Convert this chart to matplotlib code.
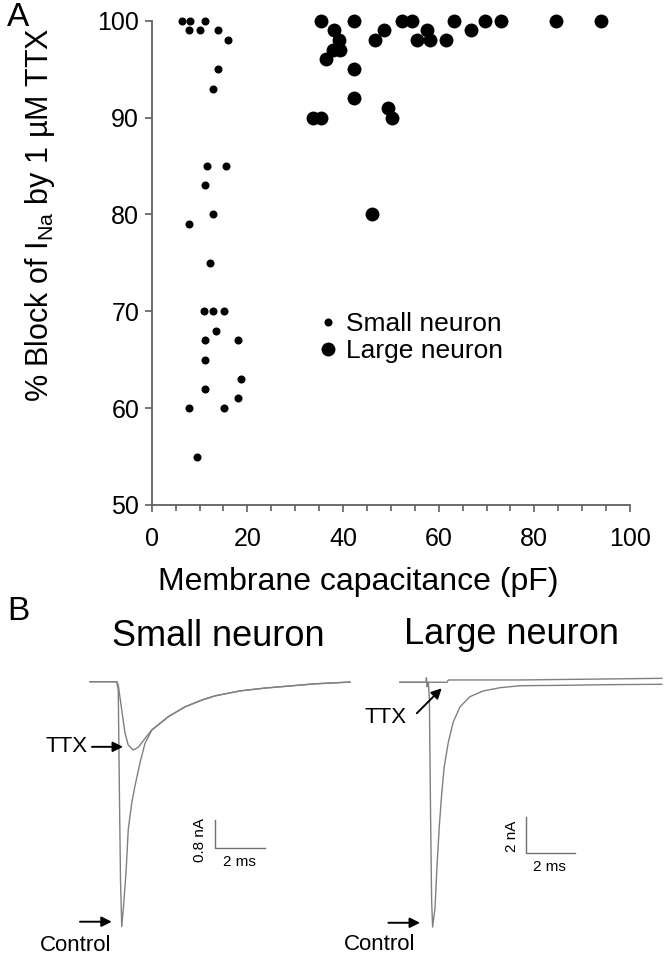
import matplotlib
matplotlib.use("Agg")
import matplotlib.pyplot as plt
import numpy as np

plt.rcParams['font.family'] = ['Liberation Sans', 'DejaVu Sans']
plt.rcParams['mathtext.fontset'] = 'custom'
plt.rcParams['mathtext.rm'] = 'Liberation Sans'
plt.rcParams['mathtext.it'] = 'Liberation Sans'

# ---------------- Panel A data ----------------
small_cap = [6.3, 8.0, 11.2, 7.7, 10.0, 13.9, 15.9, 13.9, 12.8, 11.6, 15.5, 11.2, 12.8, 7.7,
             12.2, 11.0, 12.8, 15.1, 13.4, 11.1, 18.0, 11.2, 18.7, 11.1, 7.7, 15.1, 18.0, 9.5]
small_block = [100, 100, 100, 99, 99, 99, 98, 95, 93, 85, 85, 83, 80, 79,
               75, 70, 70, 70, 68, 67, 67, 65, 63, 62, 60, 60, 61, 55]
large_cap = [35.4, 42.4, 52.4, 54.5, 63.1, 69.7, 73.0, 84.5, 93.9,
             38.1, 48.6, 57.5, 66.8,
             39.2, 46.6, 55.4, 58.2, 61.5,
             38.0, 39.4, 36.4, 42.4, 42.4, 49.3, 50.3, 33.8, 35.4, 46.0]
large_block = [100, 100, 100, 100, 100, 100, 100, 100, 100,
               99, 99, 99, 99,
               98, 98, 98, 98, 98,
               97, 97, 96, 95, 92, 91, 90, 90, 90, 80]
x_ticks = [0, 20, 40, 60, 80, 100]
y_ticks = [50, 60, 70, 80, 90, 100]

# ---------------- Panel B data (ms, nA) ----------------
small_ctrl_t = [0, 1.07, 1.13, 1.18, 1.22, 1.27, 1.33, 1.44, 1.53, 1.67, 1.80, 2.00, 2.20, 2.47,
                3.13, 3.80, 4.47, 5.0, 6.0, 7.0, 8.0, 9.0, 10.4]
small_ctrl_i = [0, 0, -0.23, -3.34, -5.59, -6.92, -6.44, -5.40, -4.18, -3.42, -2.94, -2.29, -1.74, -1.37,
                -0.99, -0.71, -0.52, -0.40, -0.26, -0.18, -0.12, -0.06, -0.01]
small_ttx_t = [0, 1.07, 1.13, 1.27, 1.40, 1.53, 1.73, 1.93, 2.13, 2.47, 3.13, 3.80, 4.47, 5.0,
               6.0, 7.0, 8.0, 9.0, 10.4]
small_ttx_i = [0, 0, -0.09, -0.80, -1.45, -1.79, -1.93, -1.85, -1.67, -1.36, -0.99, -0.71, -0.52, -0.40,
               -0.26, -0.18, -0.12, -0.06, -0.01]

large_ctrl_t = [0, 1.15, 1.19, 1.24, 1.28, 1.32, 1.42, 1.49, 1.59, 1.69, 1.79, 1.96, 2.16, 2.43,
                2.83, 3.37, 4.05, 4.86, 6.5, 8.5, 10.6]
large_ctrl_i = [0, 0, -0.98, -7.65, -12.1, -13.6, -12.5, -10.4, -8.02, -6.17, -4.69, -3.30, -2.19, -1.36,
                -0.80, -0.48, -0.30, -0.19, -0.17, -0.13, -0.11]
large_ttx_t = [0, 1.05, 1.07, 1.10, 1.13, 1.90, 1.96, 4.86, 10.6]
large_ttx_i = [0, 0, 0.25, -0.25, 0, 0, 0.13, 0.13, 0.22]

fig = plt.figure(figsize=(6.7, 9.66), dpi=100)
W, H = 670, 966

def fpos(l, t, r, b):
    return [l / W, 1 - b / H, (r - l) / W, (b - t) / H]

# ---------------- Panel A ----------------
ax = fig.add_axes(fpos(151.7, 20.7, 630, 505))
ax.plot(small_cap, small_block, 'o', color='black', ms=5.8, mew=0, label='Small neuron', clip_on=False)
ax.plot(large_cap, large_block, 'o', color='black', ms=10, mew=0, label='Large neuron', clip_on=False)
ax.set_xlim(0, 100)
ax.set_ylim(50, 100)
ax.set_xticks(x_ticks)
ax.set_xticks(np.arange(0, 101, 5), minor=True)
ax.set_yticks(y_ticks)
for s in ['top', 'right']:
    ax.spines[s].set_visible(False)
for s in ['left', 'bottom']:
    ax.spines[s].set_color('#606060')
    ax.spines[s].set_linewidth(1.3)
ax.tick_params(axis='both', which='major', length=5, width=1.2, color='#606060',
               labelsize=18, pad=4)
ax.tick_params(axis='x', which='major', pad=11)
ax.tick_params(axis='x', which='minor', length=4, width=1.2, color='#606060')
ax.set_xlabel('Membrane capacitance (pF)', fontsize=23)
ax.xaxis.set_label_coords(0.431, -0.128)
ax.set_ylabel(r'% Block of I$_{\mathrm{Na}}$ by 1 µM TTX', fontsize=22)
ax.yaxis.set_label_coords(-0.198, 0.6)
leg = ax.legend(loc='upper left', bbox_to_anchor=(0.318, 0.42), frameon=False, fontsize=19,
                handletextpad=0.2, labelspacing=0.1, borderaxespad=0, handlelength=1.0)
fig.text(18 / W, 1 - 18 / H, 'A', fontsize=24, ha='center', va='center')
fig.text(18 / W, 1 - 612 / H, 'B', fontsize=24, ha='center', va='center')

# ---------------- Panel B: small neuron ----------------
trace_col = '#808080'
bar_col = '#707070'
arrow_kw = dict(arrowstyle='-|>', color='black', lw=1.4, mutation_scale=15, shrinkA=0, shrinkB=0)

axs = fig.add_axes(fpos(60, 600, 380, 966))
axs.set_xlim((60 - 90) / 25, (380 - 90) / 25)
axs.set_ylim(-(966 - 681.7) / 35.4, (681.7 - 600) / 35.4)
axs.axis('off')
axs.plot(small_ctrl_t, small_ctrl_i, color=trace_col, lw=1.0)
axs.plot(small_ttx_t, small_ttx_i, color=trace_col, lw=1.0)
fig.text(218 / W, 1 - 636 / H, 'Small neuron', fontsize=26, ha='center', va='center')
# scale bar 2 ms, 0.8 nA
sx, sy = 5.0, -4.70
axs.plot([sx, sx, sx + 2], [sy + 0.8, sy, sy], color=bar_col, lw=1.0)
axs.text(sx - 0.62, sy + 0.23, '0.8 nA', rotation=90, fontsize=11, ha='center', va='center')
axs.text(sx + 0.96, sy - 0.39, '2 ms', fontsize=11, ha='center', va='center')
axs.annotate('', xy=(1.32, -1.84), xytext=(0.08, -1.84), arrowprops=arrow_kw)
axs.text(-0.08, -1.84, 'TTX', fontsize=16, ha='right', va='center')
axs.annotate('', xy=(0.87, -6.78), xytext=(-0.4, -6.78), arrowprops=arrow_kw)
axs.text(0.84, -7.44, 'Control', fontsize=16, ha='right', va='center')

# ---------------- Panel B: large neuron ----------------
axl = fig.add_axes(fpos(330, 600, 670, 966))
axl.set_xlim((330 - 400) / 24.7, (670 - 400) / 24.7)
axl.set_ylim(-(966 - 682.3) / 18, (682.3 - 600) / 18)
axl.axis('off')
axl.plot(large_ctrl_t, large_ctrl_i, color=trace_col, lw=1.0)
axl.plot(large_ttx_t, large_ttx_i, color=trace_col, lw=1.0)
fig.text(511 / W, 1 - 634 / H, 'Large neuron', fontsize=26, ha='center', va='center')
lx, ly = 5.09, -9.47
axl.plot([lx, lx, lx + 2], [ly + 2, ly, ly], color=bar_col, lw=1.0)
axl.text(lx - 0.57, ly + 0.9, '2 nA', rotation=90, fontsize=11, ha='center', va='center')
axl.text(lx + 0.98, ly - 0.79, '2 ms', fontsize=11, ha='center', va='center')
axl.annotate('', xy=(1.69, -0.33), xytext=(0.68, -1.72), arrowprops=arrow_kw)
axl.text(0.28, -1.98, 'TTX', fontsize=16, ha='right', va='center')
axl.annotate('', xy=(0.81, -13.36), xytext=(-0.47, -13.36), arrowprops=arrow_kw)
axl.text(0.61, -14.59, 'Control', fontsize=16, ha='right', va='center')

fig.savefig('out.png', dpi=100)
